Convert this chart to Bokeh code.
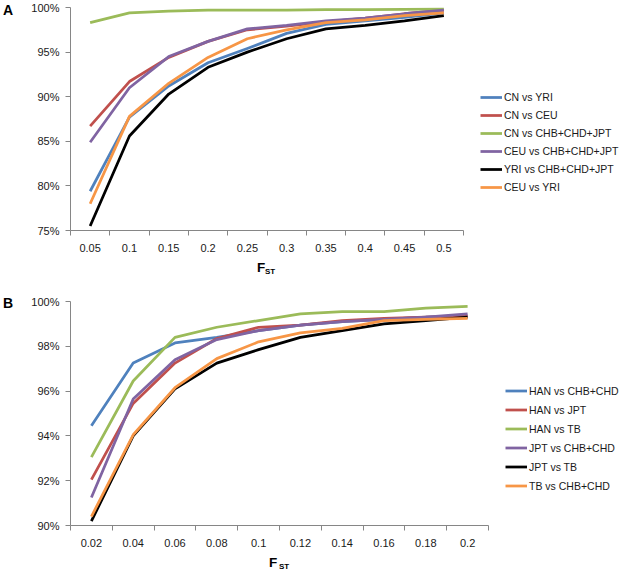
from bokeh.plotting import figure
from bokeh.models import Legend, LegendItem, FixedTicker, PrintfTickFormatter, Range1d, Div
from bokeh.layouts import column, row
from bokeh.embed import file_html
from bokeh.resources import INLINE

# ---------------- data ----------------
cats_a = ["0.05", "0.1", "0.15", "0.2", "0.25", "0.3", "0.35", "0.4", "0.45", "0.5"]
names_a = ["CN vs YRI", "CN vs CEU", "CN vs CHB+CHD+JPT", "CEU vs CHB+CHD+JPT",
           "YRI vs CHB+CHD+JPT", "CEU vs YRI"]
cn_yri = [79.4, 87.7, 91.2, 93.8, 95.4, 97.1, 98.1, 98.5, 98.9, 99.4]
cn_ceu = [86.7, 91.7, 94.4, 96.2, 97.5, 97.9, 98.4, 98.8, 99.3, 99.7]
cn_chb_chd_jpt = [98.3, 99.4, 99.6, 99.7, 99.7, 99.7, 99.75, 99.75, 99.8, 99.85]
ceu_chb_chd_jpt = [84.9, 91.0, 94.5, 96.2, 97.6, 98.0, 98.5, 98.8, 99.3, 99.7]
yri_chb_chd_jpt = [75.5, 85.6, 90.3, 93.3, 95.0, 96.5, 97.6, 98.0, 98.5, 99.1]
ceu_yri = [78.0, 87.8, 91.5, 94.4, 96.5, 97.5, 98.3, 98.6, 99.1, 99.4]

cats_b = ["0.02", "0.04", "0.06", "0.08", "0.1", "0.12", "0.14", "0.16", "0.18", "0.2"]
names_b = ["HAN vs CHB+CHD", "HAN vs JPT", "HAN vs TB", "JPT vs CHB+CHD",
           "JPT vs TB", "TB vs CHB+CHD"]
han_chb_chd = [94.45, 97.25, 98.15, 98.4, 98.7, 98.95, 99.1, 99.2, 99.3, 99.35]
han_jpt = [92.05, 95.45, 97.25, 98.35, 98.85, 98.95, 99.15, 99.25, 99.3, 99.35]
han_tb = [93.05, 96.45, 98.4, 98.85, 99.15, 99.45, 99.55, 99.55, 99.7, 99.78]
jpt_chb_chd = [91.25, 95.65, 97.4, 98.3, 98.7, 98.95, 99.1, 99.2, 99.3, 99.45]
jpt_tb = [90.2, 94.0, 96.1, 97.25, 97.85, 98.4, 98.7, 99.0, 99.15, 99.3]
tb_chb_chd = [90.4, 94.05, 96.15, 97.45, 98.2, 98.6, 98.8, 99.15, 99.2, 99.25]

y_ticks_a = [75, 80, 85, 90, 95, 100]
y_ticks_b = [90, 92, 94, 96, 98, 100]

# ---------------- style ----------------
FONT = "Liberation Sans"
AXIS_GREY = "#868686"
TEXT = "#1a1a1a"
COLORS = ["#4F81BD", "#C0504D", "#9BBB59", "#8064A2", "#000000", "#F79646"]


def make_panel(cats, series, names, y_ticks, width, height, borders,
               plot_w, legend_xy, pitch):
    n = len(cats)
    xs = list(range(1, n + 1))
    top, bottom, left = borders
    frame_w = width - left
    x_end = 0.5 + n * frame_w / plot_w   # frame extends right to hold the legend
    p = figure(width=width, height=height, output_backend="svg",
               toolbar_location=None,
               x_range=Range1d(0.5, x_end),
               y_range=Range1d(y_ticks[0], y_ticks[-1]),
               min_border_top=top, min_border_right=0,
               min_border_bottom=bottom, min_border_left=left)
    p.outline_line_color = None
    p.xgrid.visible = False
    p.ygrid.visible = False

    xa = p.xaxis[0]
    xa.bounds = (0.5, n + 0.5)
    xa.ticker = FixedTicker(ticks=xs, minor_ticks=[i + 0.5 for i in range(0, n + 1)])
    xa.major_label_overrides = {x: c for x, c in zip(xs, cats)}
    xa.major_tick_out = 0
    xa.major_tick_in = 0
    xa.minor_tick_out = 5
    xa.minor_tick_in = 0
    xa.minor_tick_line_color = AXIS_GREY
    xa.axis_line_color = AXIS_GREY
    xa.major_label_standoff = 8
    xa.major_label_text_font = FONT
    xa.major_label_text_font_size = "11px"
    xa.major_label_text_color = TEXT

    ya = p.yaxis[0]
    ya.ticker = FixedTicker(ticks=y_ticks)
    ya.formatter = PrintfTickFormatter(format="%d%%")
    ya.major_tick_out = 5
    ya.major_tick_in = 0
    ya.major_tick_line_color = AXIS_GREY
    ya.minor_tick_line_color = None
    ya.axis_line_color = AXIS_GREY
    ya.major_label_standoff = 6
    ya.major_label_text_font = FONT
    ya.major_label_text_font_size = "11px"
    ya.major_label_text_color = TEXT

    items = []
    for vals, name, col in zip(series, names, COLORS):
        r = p.line(x=xs, y=vals, line_color=col, line_width=2.75, line_join="round")
        items.append(LegendItem(label=name, renderers=[r]))

    legend = Legend(items=items, location=legend_xy, glyph_width=22,
                    glyph_height=pitch, label_height=pitch, spacing=0,
                    padding=0, margin=0, label_standoff=2,
                    border_line_color=None, background_fill_alpha=0,
                    label_text_font=FONT, label_text_font_size="10.5px",
                    label_text_color=TEXT)
    p.add_layout(legend)
    return p


def letter_div(letter, height, left, top):
    html = ('<div style="position:relative;width:14px;height:30px;">'
            '<span style="position:absolute;left:%dpx;top:%dpx;'
            'font-family:\'Liberation Sans\',Arial,sans-serif;font-weight:bold;'
            'font-size:14px;line-height:14px;color:#000;">%s</span></div>'
            % (left, top, letter))
    return Div(text=html, width=14, height=height, margin=0)


def fst_div(height, f_left, f_top, st_left, st_top):
    html = ('<div style="position:relative;width:600px;height:%dpx;'
            'font-family:\'Liberation Sans\',Arial,sans-serif;font-weight:bold;color:#000;">'
            '<span style="position:absolute;left:%dpx;top:%dpx;font-size:13.5px;line-height:14px;">F</span>'
            '<span style="position:absolute;left:%dpx;top:%dpx;font-size:8px;line-height:8px;">ST</span>'
            '</div>' % (height, f_left, f_top, st_left, st_top))
    return Div(text=html, width=620, height=height, margin=0)


pa = make_panel(cats_a,
                [cn_yri, cn_ceu, cn_chb_chd_jpt, ceu_chb_chd_jpt, yri_chb_chd_jpt, ceu_yri],
                names_a, y_ticks_a, 606, 257, (7, 27, 56), 393, (410, 34), 18)

pb = make_panel(cats_b,
                [han_chb_chd, han_jpt, han_tb, jpt_chb_chd, jpt_tb, tb_chb_chd],
                names_b, y_ticks_b, 606, 259, (8, 27, 56), 418, (435, 30), 19)

layout = column(
    row(letter_div("A", 257, 3, 3), pa, spacing=0),
    fst_div(36, 257, 4, 265, 11),
    row(letter_div("B", 259, 3, 3), pb, spacing=0),
    fst_div(20, 269, 4, 279, 11),
    spacing=0,
)
open("out.html", "w").write(file_html(layout, INLINE))
